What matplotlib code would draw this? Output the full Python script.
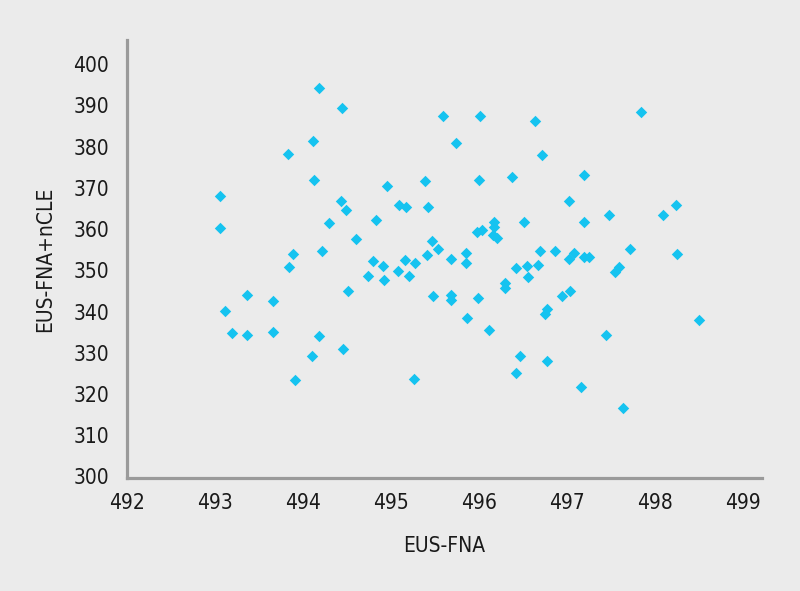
import matplotlib
matplotlib.use("Agg")
import matplotlib.pyplot as plt

plt.rcParams['font.family'] = ['DejaVu Sans']
plt.rcParams['font.stretch'] = 'condensed'

eus_fna = [494.18, 494.44, 495.59, 494.11, 493.83, 494.13, 494.95, 495.39, 493.05, 494.43,
           494.49, 495.09, 495.17, 495.42, 493.05, 494.30, 494.83, 494.60, 495.47, 495.53,
           493.89, 494.22, 495.41, 494.79, 495.16, 495.27, 494.91, 493.84, 495.08, 495.68,
           496.01, 496.64, 497.84, 495.74, 496.72, 496.00, 496.38, 497.20, 497.03, 497.48,
           498.09, 498.24, 496.17, 496.17, 495.98, 496.04, 496.16, 496.21, 496.51, 497.20,
           495.85, 495.85, 496.69, 496.86, 497.03, 497.08, 497.20, 497.25, 497.72, 498.25,
           496.42, 496.55, 496.67, 497.59, 497.55, 496.56, 494.74, 494.92, 495.21, 494.51,
           495.48, 495.68, 495.68, 493.36, 493.66, 493.11, 493.19, 493.36, 493.66, 494.18,
           494.10, 494.45, 493.91, 495.26, 495.99, 496.30, 496.30, 496.94, 497.04, 496.78,
           496.75, 495.86, 496.11, 497.45, 498.50, 496.47, 496.77, 496.42, 497.16, 497.64]
eus_fna_ncle = [394.3, 389.4, 387.3, 381.4, 378.2, 371.8, 370.5, 371.7, 367.9, 366.7,
                364.6, 365.8, 365.4, 365.3, 360.2, 361.5, 362.1, 357.6, 357.0, 355.2,
                354.0, 354.6, 353.6, 352.3, 352.4, 351.8, 351.0, 350.7, 349.8, 352.8,
                387.4, 386.3, 388.5, 380.9, 377.9, 371.8, 372.6, 373.0, 366.8, 363.4,
                363.4, 365.9, 361.8, 360.4, 359.2, 359.7, 358.5, 357.9, 361.6, 361.7,
                354.3, 351.8, 354.7, 354.7, 352.8, 354.1, 353.2, 353.2, 355.2, 354.0,
                350.6, 351.0, 351.4, 350.9, 349.5, 348.4, 348.7, 347.6, 348.7, 344.9,
                343.8, 344.0, 342.7, 343.9, 342.5, 340.2, 334.7, 334.2, 335.0, 334.1,
                329.1, 330.8, 323.5, 323.7, 343.2, 346.8, 345.6, 343.8, 345.0, 340.5,
                339.5, 338.5, 335.4, 334.4, 337.9, 329.3, 328.0, 325.2, 321.6, 316.5]

x_ticks = [492, 493, 494, 495, 496, 497, 498, 499]
y_ticks = [300, 310, 320, 330, 340, 350, 360, 370, 380, 390, 400]

bg = '#ebebeb'
fig = plt.figure(figsize=(8, 5.91), dpi=100, facecolor=bg)
ax = fig.add_axes([0.159, 0.191, 0.7935, 0.741])
ax.set_facecolor(bg)

ax.scatter(eus_fna, eus_fna_ncle, marker='D', s=34, color='#15c3f0', linewidths=0, zorder=3)

ax.set_xlim(492, 499.22)
ax.set_ylim(299.6, 405.8)
ax.set_xticks(x_ticks)
ax.set_yticks(y_ticks)
ax.tick_params(length=0, labelsize=15, colors='#1a1a1a')
ax.tick_params(axis='y', pad=13)
ax.tick_params(axis='x', pad=11)

for s in ['top', 'right']:
    ax.spines[s].set_visible(False)
for s in ['left', 'bottom']:
    ax.spines[s].set_color('#9a9a9a')
    ax.spines[s].set_linewidth(2.3)

ax.set_xlabel('EUS-FNA', fontsize=15, labelpad=16, color='#1a1a1a')
ax.set_ylabel('EUS-FNA+nCLE', fontsize=15, labelpad=13, color='#1a1a1a')

fig.savefig('out.png', dpi=100, facecolor=bg)
